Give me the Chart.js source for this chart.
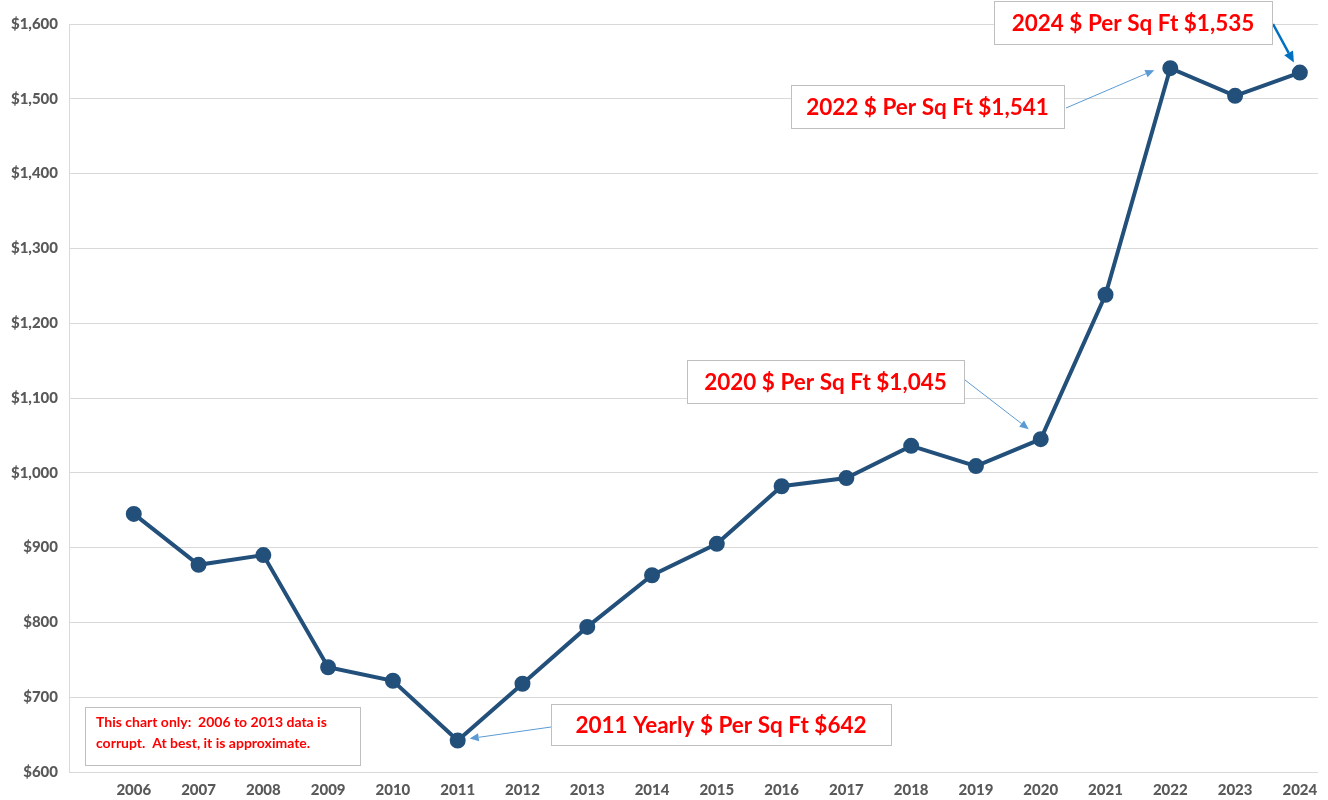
<!DOCTYPE html>
<html>
<head>
<meta charset="utf-8">
<script src="https://cdn.jsdelivr.net/npm/chart.js@4.4.1/dist/chart.umd.min.js"></script>
<style>
  html, body { margin: 0; padding: 0; background: #ffffff; }
  #wrap { width: 1328px; height: 800px; position: relative; }
</style>
</head>
<body>
<div id="wrap"><canvas id="c" width="1328" height="800"></canvas></div>
<script>
const years = [2006, 2007, 2008, 2009, 2010, 2011, 2012, 2013, 2014, 2015, 2016, 2017, 2018, 2019, 2020, 2021, 2022, 2023, 2024];
const pricePerSqFt = [945, 877, 890, 740, 722, 642, 718, 794, 863, 905, 982, 993, 1036, 1009, 1045, 1238, 1541, 1504, 1535];
const yTicks = [600, 700, 800, 900, 1000, 1100, 1200, 1300, 1400, 1500, 1600];

const annotations = [
  { text: '2011 Yearly $ Per Sq Ft $642', year: 2011, box: [551, 704, 340, 41], from: [551, 727], toOffset: [12, -2], color: '#5B9BD5', width: 1 },
  { text: '2020 $ Per Sq Ft $1,045', year: 2020, box: [687, 360, 277, 43], from: [965, 380], toOffset: [-12, -10], color: '#5B9BD5', width: 1 },
  { text: '2022 $ Per Sq Ft $1,541', year: 2022, box: [791, 85, 273, 43], from: [1066, 108], toOffset: [-16, 2], color: '#5B9BD5', width: 1 },
  { text: '2024 $ Per Sq Ft $1,535', year: 2024, box: [994, 1, 278, 43], from: [1273, 24], toOffset: [-6, -10], color: '#0070C0', width: 2.5 }
];
const noteLines = ['This chart only:  2006 to 2013 data is', 'corrupt.  At best, it is approximate.'];

const data = years.map((y, i) => ({ x: y, y: pricePerSqFt[i] }));

function arrow(ctx, x1, y1, x2, y2, color, w) {
  const ang = Math.atan2(y2 - y1, x2 - x1);
  const hl = w > 2 ? 11 : 9, hw = w > 2 ? 5 : 4;
  const bx = x2 - hl * Math.cos(ang), by = y2 - hl * Math.sin(ang);
  ctx.save();
  ctx.strokeStyle = color; ctx.fillStyle = color; ctx.lineWidth = w;
  ctx.beginPath(); ctx.moveTo(x1, y1); ctx.lineTo(bx, by); ctx.stroke();
  ctx.beginPath();
  ctx.moveTo(x2, y2);
  ctx.lineTo(bx + hw * Math.sin(ang), by - hw * Math.cos(ang));
  ctx.lineTo(bx - hw * Math.sin(ang), by + hw * Math.cos(ang));
  ctx.closePath(); ctx.fill();
  ctx.restore();
}

const annotPlugin = {
  id: 'annot',
  afterDatasetsDraw(chart) {
    const ctx = chart.ctx;
    const xs = chart.scales.x, ys = chart.scales.y;
    annotations.forEach(a => {
      const idx = years.indexOf(a.year);
      const tx = xs.getPixelForValue(a.year) + a.toOffset[0];
      const ty = ys.getPixelForValue(pricePerSqFt[idx]) + a.toOffset[1];
      arrow(ctx, a.from[0], a.from[1], tx, ty, a.color, a.width);
      const [bx, by, bw, bh] = a.box;
      ctx.save();
      ctx.fillStyle = '#ffffff';
      ctx.fillRect(bx, by, bw, bh);
      ctx.strokeStyle = '#BFBFBF'; ctx.lineWidth = 1;
      ctx.strokeRect(bx + 0.5, by + 0.5, bw, bh);
      ctx.fillStyle = '#FF0000';
      ctx.font = 'bold 22.5px Lato, "Open Sans", sans-serif';
      ctx.textAlign = 'center'; ctx.textBaseline = 'middle';
      ctx.fillText(a.text, bx + bw / 2, by + bh / 2 + 1);
      ctx.restore();
    });
    // note box
    ctx.save();
    ctx.fillStyle = '#ffffff';
    ctx.fillRect(85, 707, 275, 58);
    ctx.strokeStyle = '#BFBFBF'; ctx.lineWidth = 1;
    ctx.strokeRect(85.5, 707.5, 275, 58);
    ctx.fillStyle = '#FF0000';
    ctx.font = 'bold 14px Lato, "Open Sans", sans-serif';
    ctx.textAlign = 'left'; ctx.textBaseline = 'middle';
    ctx.fillText(noteLines[0], 96, 722);
    ctx.fillText(noteLines[1], 96, 743);
    ctx.restore();
  }
};

new Chart(document.getElementById('c'), {
  type: 'line',
  data: {
    datasets: [{
      data: data,
      borderColor: '#22507A',
      backgroundColor: '#22507A',
      borderWidth: 4,
      pointRadius: 6,
      pointHoverRadius: 6,
      pointBackgroundColor: '#22507A',
      pointBorderColor: '#22507A',
      tension: 0
    }]
  },
  options: {
    responsive: false,
    animation: false,
    devicePixelRatio: 1,
    layout: { padding: { left: 0, right: 6, top: 24, bottom: 0 } },
    plugins: { legend: { display: false }, tooltip: { enabled: false } },
    scales: {
      x: {
        type: 'linear',
        min: 2005,
        max: 2024.28,
        afterBuildTicks: (s) => { s.ticks = years.map(v => ({ value: v })); },
        afterFit: (s) => { s.height = 28; },
        grid: { display: false, drawTicks: false },
        border: { display: false },
        ticks: {
          autoSkip: false, maxRotation: 0, padding: 9,
          color: '#595959',
          font: { family: 'Lato, "Open Sans", sans-serif', size: 15, weight: '900' },
          callback: (v) => String(v)
        }
      },
      y: {
        min: 600, max: 1600,
        afterBuildTicks: (s) => { s.ticks = yTicks.map(v => ({ value: v })); },
        afterFit: (s) => { s.width = 69; },
        grid: { color: '#D9D9D9', lineWidth: 1, drawTicks: false },
        border: { display: true, color: '#D9D9D9' },
        ticks: {
          padding: 11,
          color: '#595959',
          font: { family: 'Lato, "Open Sans", sans-serif', size: 15, weight: '900' },
          callback: (v) => '$' + v.toLocaleString('en-US')
        }
      }
    }
  },
  plugins: [annotPlugin]
});
</script>
</body>
</html>
